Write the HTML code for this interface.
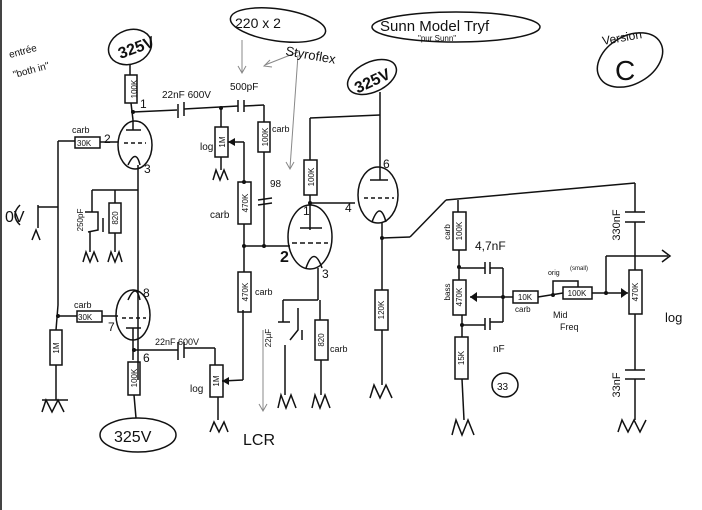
<!DOCTYPE html>
<html><head><meta charset="utf-8"><style>
html,body{margin:0;padding:0;background:#fff;}
svg{display:block;}
text{font-family:"Liberation Sans",sans-serif;fill:#111;}
</style></head><body>
<svg width="702" height="510" viewBox="0 0 702 510" xmlns="http://www.w3.org/2000/svg">
<rect width="702" height="510" fill="#fff"/>
<line x1="1" y1="0" x2="1" y2="510" stroke="#444" stroke-width="2"/>
<g stroke="#888" stroke-width="1" fill="none">
<line x1="242" y1="40" x2="242" y2="72"/><polyline points="238,66 242,73 246,66"/>
<line x1="298" y1="52" x2="265" y2="65"/><polyline points="270,60 264,66 272,67"/>
<line x1="298" y1="55" x2="290" y2="168"/><polyline points="286,162 290,169 294,162"/>
<line x1="263" y1="330" x2="263" y2="410"/><polyline points="259,404 263,411 267,404"/>
</g>
<g stroke="#111" stroke-width="1.5" fill="none">
<ellipse cx="130" cy="47" rx="22" ry="17" transform="rotate(-20 130 47)"/>
<ellipse cx="138" cy="435" rx="38" ry="17"/>
<ellipse cx="372" cy="77" rx="26" ry="15" transform="rotate(-25 372 77)"/>
<ellipse cx="456" cy="27" rx="84" ry="15"/>
<ellipse cx="630" cy="60" rx="35" ry="24" transform="rotate(-30 630 60)"/>
<ellipse cx="278" cy="25" rx="48" ry="16" transform="rotate(8 278 25)"/>
<ellipse cx="505" cy="385" rx="13" ry="12"/>
<line x1="130" y1="64" x2="130" y2="75"/>
<rect x="125" y="75" width="12" height="28"/>
<line x1="131" y1="103" x2="133" y2="120"/>
<line x1="133" y1="112" x2="177" y2="110"/>
<line x1="178" y1="104" x2="178" y2="118"/><line x1="184" y1="102" x2="184" y2="116"/>
<line x1="184" y1="109" x2="238" y2="106"/>
<line x1="238" y1="100" x2="238" y2="112"/><line x1="244" y1="100" x2="244" y2="112"/>
<line x1="244" y1="106" x2="264" y2="105"/><line x1="264" y1="105" x2="264" y2="122"/>
<rect x="258" y="122" width="12" height="30"/>
<line x1="264" y1="152" x2="264" y2="200"/>
<line x1="221" y1="107" x2="221" y2="127"/>
<rect x="215" y="127" width="13" height="30"/>
<line x1="221" y1="157" x2="221" y2="170"/>
<polyline points="213,180 216,170 220,180 224,170 228,180"/>
<line x1="228" y1="142" x2="244" y2="142"/><line x1="244" y1="142" x2="244" y2="182"/>
<ellipse cx="135" cy="145" rx="17" ry="24"/>
<line x1="133" y1="120" x2="133" y2="130"/><line x1="126" y1="130" x2="141" y2="130"/>
<line x1="124" y1="143" x2="146" y2="143" stroke-dasharray="4,3"/>
<path d="M128 165 Q136 148 140 165"/>
<line x1="138" y1="165" x2="138" y2="380"/>
<rect x="75" y="137" width="25" height="11"/>
<line x1="100" y1="142" x2="118" y2="142"/>
<line x1="75" y1="141" x2="58" y2="141"/><line x1="58" y1="141" x2="58" y2="305"/>
<line x1="92" y1="190" x2="138" y2="190"/>
<line x1="115" y1="190" x2="115" y2="203"/>
<rect x="109" y="203" width="12" height="30"/>
<line x1="115" y1="233" x2="115" y2="252"/>
<line x1="92" y1="190" x2="92" y2="212"/>
<polyline points="85,212 98,212 98,230 88,232"/>
<line x1="103" y1="218" x2="103" y2="232"/>
<line x1="90" y1="232" x2="90" y2="252"/>
<polyline points="83,262 86,252 90,262 94,252 98,262"/>
<polyline points="108,262 111,252 115,262 119,252 122,262"/>
<path d="M20 205 Q10 215 20 225"/>
<line x1="38" y1="205" x2="38" y2="228"/><line x1="38" y1="207" x2="58" y2="207"/>
<polyline points="32,240 36,230 40,240"/>
<ellipse cx="133" cy="315" rx="17" ry="25"/>
<path d="M128 300 Q136 282 140 300"/>
<line x1="122" y1="318" x2="146" y2="318" stroke-dasharray="4,3"/>
<line x1="126" y1="328" x2="141" y2="328"/><line x1="133" y1="328" x2="133" y2="360"/>
<rect x="77" y="311" width="25" height="11"/>
<line x1="102" y1="316" x2="118" y2="316"/><line x1="77" y1="316" x2="58" y2="316"/>
<rect x="50" y="330" width="12" height="35"/>
<line x1="58" y1="305" x2="56" y2="330"/><line x1="56" y1="365" x2="56" y2="400"/>
<polyline points="42,412 46,400 52,412 58,400 64,412"/><line x1="42" y1="400" x2="68" y2="400"/>
<rect x="128" y="362" width="12" height="33"/>
<line x1="134" y1="395" x2="136" y2="418"/>
<line x1="134" y1="350" x2="178" y2="350"/>
<line x1="178" y1="342" x2="178" y2="360"/><line x1="184" y1="342" x2="184" y2="358"/>
<line x1="184" y1="348" x2="215" y2="348"/><line x1="215" y1="348" x2="215" y2="365"/>
<rect x="210" y="365" width="13" height="32"/>
<line x1="222" y1="381" x2="243" y2="380"/>
<line x1="243" y1="380" x2="243" y2="310"/>
<line x1="218" y1="397" x2="218" y2="420"/>
<polyline points="210,432 214,422 219,432 224,422 228,432"/>
<rect x="238" y="182" width="13" height="42"/>
<line x1="244" y1="224" x2="244" y2="272"/>
<rect x="238" y="272" width="13" height="40"/>
<line x1="244" y1="246" x2="290" y2="246"/>
<line x1="264" y1="200" x2="264" y2="246"/>
<line x1="258" y1="200" x2="272" y2="198"/><line x1="258" y1="205" x2="272" y2="203"/>
<ellipse cx="310" cy="237" rx="22" ry="32"/>
<line x1="310" y1="195" x2="310" y2="230"/><line x1="300" y1="228" x2="322" y2="228"/>
<line x1="292" y1="243" x2="328" y2="243" stroke-dasharray="5,3"/>
<path d="M306 268 Q314 245 322 268"/>
<line x1="318" y1="268" x2="318" y2="300"/>
<line x1="283" y1="300" x2="318" y2="300"/>
<line x1="320" y1="300" x2="320" y2="320"/>
<rect x="315" y="320" width="13" height="40"/>
<line x1="321" y1="360" x2="321" y2="395"/>
<polyline points="312,408 315,395 320,408 325,395 330,408"/>
<line x1="283" y1="300" x2="283" y2="322"/><line x1="278" y1="322" x2="290" y2="322"/>
<polyline points="298,308 298,330 290,340"/>
<line x1="302" y1="330" x2="302" y2="340"/>
<line x1="285" y1="345" x2="285" y2="395"/>
<polyline points="278,408 281,395 286,408 291,395 296,408"/>
<rect x="304" y="160" width="13" height="35"/>
<line x1="310" y1="160" x2="310" y2="118"/>
<line x1="310" y1="118" x2="380" y2="115"/>
<line x1="380" y1="92" x2="380" y2="168"/>
<line x1="310" y1="203" x2="355" y2="203"/>
<ellipse cx="378" cy="195" rx="20" ry="28"/>
<line x1="380" y1="168" x2="380" y2="180"/><line x1="370" y1="180" x2="388" y2="180"/>
<line x1="364" y1="198" x2="394" y2="198" stroke-dasharray="4,3"/>
<path d="M372 222 Q380 200 386 222"/>
<line x1="382" y1="222" x2="382" y2="290"/>
<rect x="375" y="290" width="13" height="40"/>
<line x1="382" y1="330" x2="382" y2="385"/>
<polyline points="370,398 374,385 380,398 386,385 392,398"/>
<line x1="382" y1="238" x2="410" y2="237"/>
<line x1="410" y1="237" x2="446" y2="200"/>
<line x1="446" y1="200" x2="635" y2="183"/>
<line x1="635" y1="183" x2="635" y2="212"/>
<line x1="625" y1="212" x2="645" y2="212"/><line x1="625" y1="222" x2="645" y2="222"/>
<line x1="635" y1="222" x2="635" y2="270"/>
<rect x="629" y="270" width="13" height="44"/>
<line x1="635" y1="314" x2="635" y2="370"/>
<line x1="625" y1="370" x2="645" y2="370"/><line x1="625" y1="379" x2="645" y2="379"/>
<line x1="635" y1="379" x2="635" y2="420"/>
<polyline points="618,432 622,420 628,432 634,420 640,432 646,420"/>
<line x1="606" y1="293" x2="628" y2="293"/>
<line x1="606" y1="293" x2="606" y2="256"/>
<line x1="606" y1="256" x2="668" y2="256"/>
<polyline points="662,250 670,256 662,262"/>
<line x1="458" y1="200" x2="458" y2="212"/>
<rect x="453" y="212" width="13" height="38"/>
<line x1="459" y1="250" x2="459" y2="280"/>
<rect x="453" y="280" width="13" height="35"/>
<line x1="462" y1="315" x2="462" y2="337"/>
<rect x="455" y="337" width="13" height="42"/>
<line x1="462" y1="379" x2="464" y2="420"/>
<polyline points="452,435 456,420 462,435 468,420 474,435"/>
<line x1="460" y1="268" x2="485" y2="268"/>
<line x1="485" y1="262" x2="485" y2="274"/><line x1="490" y1="262" x2="490" y2="274"/>
<line x1="490" y1="268" x2="503" y2="268"/><line x1="503" y1="268" x2="503" y2="322"/>
<line x1="462" y1="325" x2="485" y2="325"/>
<line x1="485" y1="318" x2="485" y2="330"/><line x1="490" y1="318" x2="490" y2="330"/>
<line x1="490" y1="322" x2="503" y2="322"/>
<line x1="470" y1="297" x2="513" y2="297"/>
<rect x="513" y="291" width="25" height="12"/>
<line x1="538" y1="297" x2="563" y2="293"/>
<rect x="563" y="287" width="29" height="12"/>
<line x1="592" y1="293" x2="606" y2="293"/>
<polyline points="553,295 553,281 578,281 578,287"/>
</g>
<g fill="#111">
<circle cx="133" cy="112" r="2"/><circle cx="221" cy="108" r="2"/><circle cx="58" cy="316" r="2"/>
<circle cx="134" cy="350" r="2"/><circle cx="244" cy="246" r="2"/><circle cx="264" cy="246" r="2"/>
<circle cx="310" cy="203" r="2"/><circle cx="382" cy="238" r="2"/><circle cx="503" cy="297" r="2"/>
<circle cx="553" cy="295" r="2"/><circle cx="606" cy="293" r="2"/><circle cx="459" cy="267" r="2"/>
<circle cx="462" cy="325" r="2"/><circle cx="244" cy="182" r="2"/>
<polygon points="470,297 477,292 477,302"/><polygon points="628,293 621,288 621,298"/>
<polygon points="228,142 235,138 235,146"/><polygon points="222,381 229,377 229,385"/>
</g>
<g font-size="11">
<text x="117" y="55" font-size="16" font-weight="bold" transform="rotate(-20 130 47)">325V</text>
<text x="114" y="442" font-size="16">325V</text>
<text x="352" y="86" font-size="16" font-weight="bold" transform="rotate(-25 372 77)">325V</text>
<text x="380" y="31" font-size="15">Sunn Model Tryf</text>
<text x="418" y="41" font-size="8">"pur Sunn"</text>
<text x="603" y="45" font-size="12" transform="rotate(-10 603 45)">Version</text>
<text x="615" y="80" font-size="28">C</text>
<text x="235" y="28" font-size="14">220 x 2</text>
<text x="285" y="55" font-size="13" transform="rotate(10 285 55)">Styroflex</text>
<text x="10" y="58" font-size="10" transform="rotate(-15 10 58)">entrée</text>
<text x="14" y="78" font-size="10" transform="rotate(-15 14 78)">"both in"</text>
<text x="5" y="222" font-size="16">0V</text>
<text x="162" y="98" font-size="10">22nF 600V</text>
<text x="230" y="90" font-size="10">500pF</text>
<text x="72" y="133" font-size="9">carb</text>
<text x="77" y="146" font-size="8">30K</text>
<text x="104" y="143" font-size="12">2</text>
<text x="144" y="173" font-size="12">3</text>
<text x="140" y="108" font-size="12">1</text>
<text x="272" y="132" font-size="9">carb</text>
<text x="200" y="150" font-size="10">log</text>
<text x="210" y="218" font-size="10">carb</text>
<text x="255" y="295" font-size="9">carb</text>
<text x="74" y="308" font-size="9">carb</text>
<text x="78" y="320" font-size="8">30K</text>
<text x="108" y="331" font-size="12">7</text>
<text x="143" y="297" font-size="12">8</text>
<text x="143" y="362" font-size="12">6</text>
<text x="155" y="345" font-size="9">22nF 600V</text>
<text x="190" y="392" font-size="10">log</text>
<text x="243" y="445" font-size="16">LCR</text>
<text x="280" y="262" font-size="16" font-weight="bold">2</text>
<text x="322" y="278" font-size="12">3</text>
<text x="330" y="352" font-size="9">carb</text>
<text x="345" y="212" font-size="12">4</text>
<text x="383" y="168" font-size="12">6</text>
<text x="303" y="215" font-size="12">1</text>
<text x="270" y="187" font-size="10">98</text>
<text x="475" y="250" font-size="12">4,7nF</text>
<text x="515" y="312" font-size="8">carb</text>
<text x="553" y="318" font-size="9">Mid</text>
<text x="560" y="330" font-size="9">Freq</text>
<text x="493" y="352" font-size="10">nF</text>
<text x="497" y="390" font-size="10">33</text>
<text x="665" y="322" font-size="13">log</text>
<text x="548" y="275" font-size="7">orig</text>
<text x="570" y="270" font-size="6">(small)</text>
</g>
<g font-size="8" text-anchor="middle">
<text transform="translate(134,89) rotate(-90)" x="0" y="3">100K</text>
<text transform="translate(222,142) rotate(-90)" x="0" y="3">1M</text>
<text transform="translate(265,137) rotate(-90)" x="0" y="3">100K</text>
<text transform="translate(245,203) rotate(-90)" x="0" y="3">470K</text>
<text transform="translate(245,292) rotate(-90)" x="0" y="3">470K</text>
<text transform="translate(216,381) rotate(-90)" x="0" y="3">1M</text>
<text transform="translate(56,348) rotate(-90)" x="0" y="3">1M</text>
<text transform="translate(134,378) rotate(-90)" x="0" y="3">100K</text>
<text transform="translate(115,218) rotate(-90)" x="0" y="3">820</text>
<text transform="translate(311,177) rotate(-90)" x="0" y="3">100K</text>
<text transform="translate(321,340) rotate(-90)" x="0" y="3">820</text>
<text transform="translate(381,310) rotate(-90)" x="0" y="3">120K</text>
<text transform="translate(459,231) rotate(-90)" x="0" y="3">100K</text>
<text transform="translate(459,297) rotate(-90)" x="0" y="3">470K</text>
<text transform="translate(461,358) rotate(-90)" x="0" y="3">15K</text>
<text transform="translate(635,292) rotate(-90)" x="0" y="3">470K</text>
<text x="525" y="300">10K</text>
<text x="577" y="296">100K</text>
<text transform="translate(80,220) rotate(-90)" x="0" y="3">250pF</text>
<text transform="translate(268,338) rotate(-90)" x="0" y="3">22µF</text>
<text transform="translate(617,225) rotate(-90)" x="0" y="3" font-size="11">330nF</text>
<text transform="translate(617,385) rotate(-90)" x="0" y="3" font-size="11">33nF</text>
<text transform="translate(447,292) rotate(-90)" x="0" y="3">bass</text>
<text transform="translate(447,232) rotate(-90)" x="0" y="3">carb</text>
</g>
</svg>
</body></html>
